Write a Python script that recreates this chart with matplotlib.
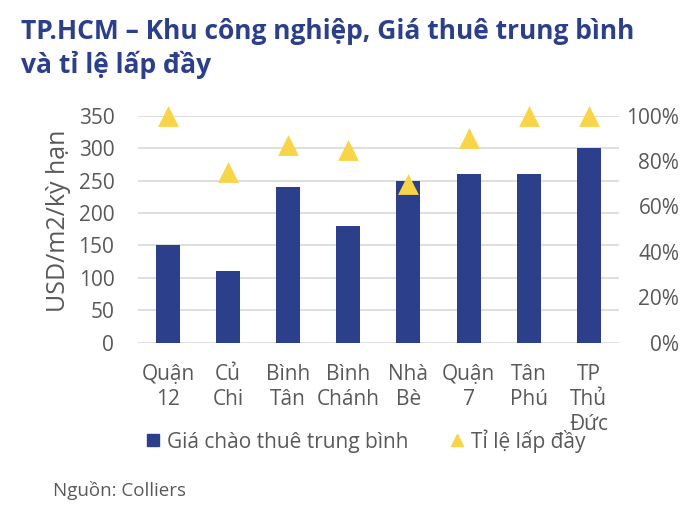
import matplotlib
matplotlib.use("Agg")
import matplotlib.pyplot as plt
from matplotlib.lines import Line2D
import numpy as np

categories = ["Quận\n12", "Củ\nChi", "Bình\nTân", "Bình\nChánh", "Nhà\nBè", "Quận\n7", "Tân\nPhú", "TP\nThủ\nĐức"]
price = [150, 110, 240, 180, 250, 260, 260, 300]
occupancy = [100, 75, 87, 85, 70, 90, 100, 100]
left_ticks = [0, 50, 100, 150, 200, 250, 300, 350]
right_ticks = [0, 20, 40, 60, 80, 100]

plt.rcParams['font.family'] = ['Open Sans', 'DejaVu Sans']
BLUE = "#2B3F8A"
YELLOW = "#F8D548"
GREY = "#595959"

fig = plt.figure(figsize=(7, 5.12), dpi=100)
ax = fig.add_axes([0.1971, 0.3307, 0.687, 0.4434])
x = np.arange(len(categories))
ax.bar(x, price, width=0.4, color=BLUE, zorder=2)
ax.set_ylim(0, 350)
ax.set_xlim(-0.5, len(categories) - 0.5)
ax.set_yticks(left_ticks)
ax.set_yticklabels([str(v) for v in left_ticks])
ax.grid(axis='y', color="#D9D9D9", linewidth=1.2, zorder=0)
for s in ax.spines.values():
    s.set_visible(False)
ax.tick_params(axis='y', length=0, labelsize=15, colors=GREY, pad=17)
ax.tick_params(axis='x', length=0, labelsize=15, colors=GREY, pad=15)
ax.set_xticks(x)
ax.set_xticklabels(categories, linespacing=1.25, va='top')
ax.set_ylabel("USD/m2/kỳ hạn", fontsize=18, color=GREY, va='baseline', ha='center',
              rotation_mode='anchor')
ax.yaxis.set_label_coords(-0.152, 0.537)

ax2 = ax.twinx()
ax2.scatter(x, occupancy, marker='^', s=225, color=YELLOW, zorder=3, clip_on=False,
            linewidths=0)
ax2.set_ylim(0, 100)
ax2.set_yticks(right_ticks)
ax2.set_yticklabels([f"{v}%" for v in right_ticks], ha='right')
for s in ax2.spines.values():
    s.set_visible(False)
ax2.tick_params(axis='y', length=0, labelsize=15, colors=GREY, pad=43.5)

fig.text(0.030, 1 - 39.3 / 512, "TP.HCM – Khu công nghiệp, Giá thuê trung bình",
         fontsize=19, fontweight='bold', color=BLUE, va='baseline', ha='left')
fig.text(0.030, 1 - 72.7 / 512, "và tỉ lệ lấp đầy",
         fontsize=19, fontweight='bold', color=BLUE, va='baseline', ha='left')

handles = [Line2D([0], [0], marker='s', linestyle='none', markersize=9, color=BLUE),
           Line2D([0], [0], marker='^', linestyle='none', markersize=9, color=YELLOW)]
fig.legend(handles, ["Giá chào thuê trung bình", "Tỉ lệ lấp đầy"], loc='center',
           bbox_to_anchor=(0.522, 0.139), ncol=2, frameon=False, fontsize=15,
           labelcolor=GREY, handlelength=0.7, handletextpad=0.3, columnspacing=2.0)

fig.text(52.7 / 700, 1 - 496 / 512, "Nguồn: Colliers", fontsize=13.5, color=GREY,
         ha='left', va='baseline')

fig.savefig("out.png", dpi=100)
